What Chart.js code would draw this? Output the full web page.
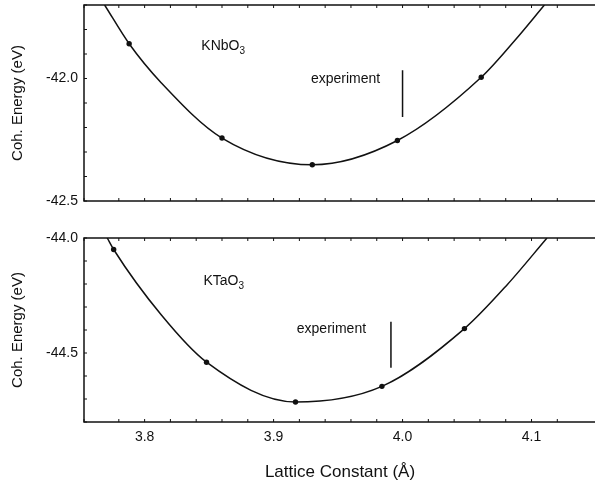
<!DOCTYPE html>
<html>
<head>
<meta charset="utf-8">
<script src="https://cdn.jsdelivr.net/npm/chart.js@4"></script>
<style>
html, body { margin: 0; padding: 0; background: #fff; overflow: hidden; }
#wrap { position: relative; width: 595px; height: 484px; overflow: hidden; }
.box { position: absolute; left: 0; width: 600px; }
#top { top: 0; height: 215px; }
#bot { top: 225px; height: 259px; }
</style>
</head>
<body>
<div id="wrap">
  <div class="box" id="top"><canvas id="c1"></canvas></div>
  <div class="box" id="bot"><canvas id="c2"></canvas></div>
</div>
<script>
// KNbO3: calculated points, fitted curve, experiment marker
const knbX = [3.788, 3.860, 3.930, 3.996, 4.061]
const knbE = [-41.858, -42.243, -42.352, -42.253, -41.995]
const knbCurveX = [3.769, 3.788, 3.813, 3.860, 3.930, 3.996, 4.061, 4.087, 4.110]
const knbCurveE = [-41.700, -41.858, -42.018, -42.243, -42.352, -42.253, -41.995, -41.845, -41.700]
const knbExpX = [4.000, 4.000]
const knbExpE = [-41.966, -42.157]

// KTaO3
const ktaX = [3.776, 3.848, 3.917, 3.984, 4.048]
const ktaE = [-44.050, -44.540, -44.713, -44.645, -44.394]
const ktaCurveX = [3.771, 3.776, 3.813, 3.848, 3.917, 3.984, 4.048, 4.081, 4.112]
const ktaCurveE = [-44.000, -44.050, -44.335, -44.540, -44.713, -44.645, -44.394, -44.204, -44.000]
const ktaExpX = [3.991, 3.991]
const ktaExpE = [-44.364, -44.564]

const xTickLabels = ['3.8', '3.9', '4.0', '4.1']

Chart.defaults.font.family = '"Liberation Sans", Arial, sans-serif'
Chart.defaults.color = '#111'

const ink = '#111'
const pts = (xs, ys) => xs.map((v, i) => ({x: v, y: ys[i]}))

const frame = {
  id: 'frame',
  afterDatasetsDraw(chart, args, o) {
    const {ctx, chartArea: a, scales: {x, y}} = chart
    ctx.save()
    ctx.strokeStyle = ink
    ctx.lineWidth = 1.5
    ctx.strokeRect(a.left, a.top, a.right - a.left, a.bottom - a.top)
    ctx.lineWidth = 1
    ctx.beginPath()
    y.ticks.forEach(t => {
      const p = y.getPixelForValue(t.value)
      ctx.moveTo(a.left, p); ctx.lineTo(a.left + 3, p)
    })
    x.ticks.forEach(t => {
      const p = x.getPixelForValue(t.value)
      ctx.moveTo(p, a.top); ctx.lineTo(p, a.top + 3)
      ctx.moveTo(p, a.bottom); ctx.lineTo(p, a.bottom - 3)
    })
    ctx.stroke()
    // compound name with subscript
    ctx.fillStyle = ink
    ctx.textBaseline = 'alphabetic'
    ctx.font = '14px "Liberation Sans", Arial'
    const nx = x.getPixelForValue(o.nameAt[0]), ny = y.getPixelForValue(o.nameAt[1])
    ctx.fillText(o.name, nx, ny)
    const w = ctx.measureText(o.name).width
    ctx.font = '10px "Liberation Sans", Arial'
    ctx.fillText(o.sub, nx + w, ny + 4)
    ctx.font = '14px "Liberation Sans", Arial'
    ctx.fillText('experiment', x.getPixelForValue(o.expAt[0]), y.getPixelForValue(o.expAt[1]))
    ctx.restore()
  }
}

function makeChart(id, d, yMin, yMax, showX) {
  return new Chart(document.getElementById(id), {
    type: 'scatter',
    data: {
      datasets: [
        {
          type: 'line', data: pts(d.cx, d.ce), borderColor: ink, borderWidth: 1.5,
          pointRadius: 0, cubicInterpolationMode: 'monotone', fill: false
        },
        {
          data: pts(d.x, d.e), backgroundColor: ink, borderColor: ink,
          pointRadius: 2.7, pointBorderWidth: 0
        },
        {
          type: 'line', data: pts(d.ex, d.ee), borderColor: ink, borderWidth: 1.5,
          pointRadius: 0, fill: false
        }
      ]
    },
    options: {
      responsive: true,
      maintainAspectRatio: false,
      animation: false,
      layout: {padding: {top: showX ? 13 : 5, right: 2, left: 0, bottom: 0}},
      plugins: {
        legend: {display: false},
        tooltip: {enabled: false},
        frame: {name: d.name, sub: '3', nameAt: d.nameAt, expAt: d.expAt}
      },
      scales: {
        x: {
          type: 'linear', min: 3.753, max: 4.150,
          grid: {display: false, drawTicks: false},
          border: {display: false},
          ticks: {
            display: showX, stepSize: 0.02, autoSkip: false, maxRotation: 0, padding: 7,
            font: {size: 14},
            callback: v => {
              const s = v.toFixed(1)
              return Math.abs(v * 10 - Math.round(v * 10)) < 1e-6 && xTickLabels.includes(s) ? s : ''
            }
          },
          title: {
            display: showX, text: 'Lattice Constant (Å)', font: {size: 17},
            padding: {top: 0, bottom: 1}
          },
          afterFit: s => {
            s.height = showX ? 62 : 14
            s.paddingLeft = 0
            s.paddingRight = 0
          }
        },
        y: {
          min: yMin, max: yMax,
          grid: {display: false, drawTicks: false},
          border: {display: false},
          ticks: {
            stepSize: 0.1, autoSkip: false, padding: 6, font: {size: 14},
            callback: v => Math.abs(v * 2 - Math.round(v * 2)) < 1e-6 ? v.toFixed(1) : ''
          },
          title: {
            display: true, text: 'Coh. Energy (eV)', font: {size: 15},
            padding: {top: 9, bottom: 0}
          },
          afterFit: s => {
            s.width = 84
            s.paddingTop = 0
            s.paddingBottom = 0
          }
        }
      }
    },
    plugins: [frame]
  })
}

makeChart('c1', {
  x: knbX, e: knbE, cx: knbCurveX, ce: knbCurveE, ex: knbExpX, ee: knbExpE,
  name: 'KNbO', nameAt: [3.844, -41.885], expAt: [3.929, -42.018]
}, -42.5, -41.7, false)

makeChart('c2', {
  x: ktaX, e: ktaE, cx: ktaCurveX, ce: ktaCurveE, ex: ktaExpX, ee: ktaExpE,
  name: 'KTaO', nameAt: [3.8456, -44.204], expAt: [3.918, -44.414]
}, -44.8, -44.0, true)
</script>
</body>
</html>
